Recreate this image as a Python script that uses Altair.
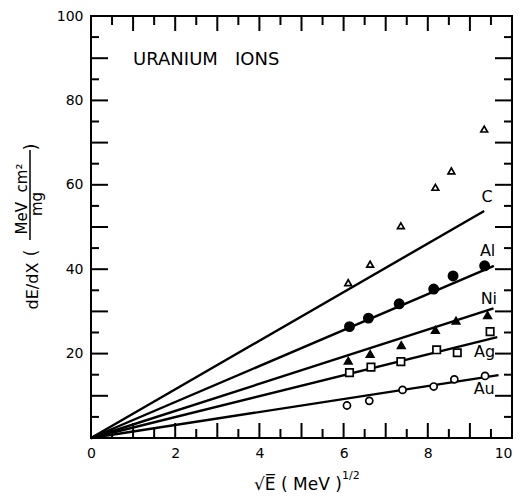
import altair as alt
import pandas as pd

# ---- data ----
C_x = [6.11, 6.63, 7.36, 8.18, 8.56, 9.34]
C_y = [36.8, 41.2, 50.3, 59.4, 63.3, 73.2]
Al_x = [6.14, 6.59, 7.32, 8.14, 8.60, 9.35]
Al_y = [26.4, 28.4, 31.8, 35.3, 38.4, 40.8]
Ni_x = [6.11, 6.63, 7.37, 8.18, 8.67, 9.42]
Ni_y = [18.3, 19.9, 22.0, 25.6, 27.8, 29.1]
Ag_x = [6.14, 6.65, 7.36, 8.21, 8.70, 9.48]
Ag_y = [15.5, 16.8, 18.1, 20.9, 20.2, 25.2]
Au_x = [6.08, 6.61, 7.40, 8.14, 8.63, 9.36]
Au_y = [7.7, 8.8, 11.4, 12.2, 13.9, 14.7]

series = ["C", "Al", "Ni", "Ag", "Au"]
line_end_x = [9.34, 9.57, 9.56, 9.65, 9.68]
line_end_y = [53.8, 40.8, 30.7, 23.9, 14.9]
label_x = [9.41, 9.42, 9.45, 9.35, 9.34]
label_y = [57.1, 44.3, 32.9, 20.4, 11.6]

x_labels = [0, 2, 4, 6, 8, 10]
y_labels = [20, 40, 60, 80, 100]
x_major = [1, 2, 3, 4, 5, 6, 7, 8, 9]
x_minor = [0.5, 1.5, 2.5, 3.5, 4.5, 5.5, 6.5, 7.5, 8.5, 9.5]
y_major = [10, 20, 30, 40, 50, 60, 70, 80, 90]
y_minor = [5, 15, 25, 35, 45, 55, 65, 75, 85, 95]

FONT = "DejaVu Sans"
W = 421
H = 422

xs = alt.Scale(domain=[0, 10], nice=False, zero=False)
ys = alt.Scale(domain=[0, 100], nice=False, zero=False)
xaxis = alt.Axis(values=x_labels, ticks=False, tickSize=0, domain=False, grid=False,
                 labelPadding=8, labelFontSize=14, labelFont=FONT, labelColor="black",
                 labelAlign=alt.condition("datum.value == 10", alt.value("right"), alt.value("center")),
                 title="", labelFlush=False)
yaxis = alt.Axis(values=y_labels, ticks=False, tickSize=0, domain=False, grid=False,
                 labelPadding=8, labelFontSize=14, labelFont=FONT, labelColor="black",
                 title="", labelFlush=False)


def X(f="x"):
    return alt.X(f"{f}:Q", scale=xs, axis=xaxis)


def Y(f="y"):
    return alt.Y(f"{f}:Q", scale=ys, axis=yaxis)


layers = []

# fitted lines from the origin
line_rows = []
for s, ex, ey in zip(series, line_end_x, line_end_y):
    line_rows.append({"s": s, "x": 0, "y": 0})
    line_rows.append({"s": s, "x": ex, "y": ey})
layers.append(alt.Chart(pd.DataFrame(line_rows)).mark_line(color="black", strokeWidth=2.4)
              .encode(x=X(), y=Y(), detail="s:N"))


def pts(xv, yv, shape, filled, size):
    df = pd.DataFrame({"x": xv, "y": yv})
    kw = dict(shape=shape, size=size, opacity=1, strokeWidth=1.7)
    if filled:
        kw.update(filled=True, fill="black", stroke="black")
    else:
        kw.update(filled=False, fill="white", fillOpacity=1, stroke="black")
    return alt.Chart(df).mark_point(**kw).encode(x=X(), y=Y())


layers.append(pts(C_x, C_y, "triangle-up", False, 45))
layers.append(pts(Al_x, Al_y, "circle", True, 85))
layers.append(pts(Ni_x, Ni_y, "triangle-up", True, 55))
layers.append(pts(Ag_x, Ag_y, "square", False, 55))
layers.append(pts(Au_x, Au_y, "circle", False, 50))

# series labels
lab = pd.DataFrame({"t": series, "x": label_x, "y": label_y})
layers.append(alt.Chart(lab).mark_text(font=FONT, fontSize=16, color="black",
                                       align="center", baseline="middle")
              .encode(x=X(), y=Y(), text="t:N"))

# inner title
ttl = pd.DataFrame({"t": ["URANIUM \u00a0\u00a0IONS"], "x": [1.0], "y": [89.6]})
layers.append(alt.Chart(ttl).mark_text(font=FONT, fontSize=18, color="black",
                                       align="left", baseline="middle")
              .encode(x=X(), y=Y(), text="t:N"))

# inward ticks
def xticks(vals, length, top):
    df = pd.DataFrame({"x": vals})
    if top:
        yy, yy2 = alt.value(0), alt.value(length)
    else:
        yy, yy2 = alt.value(H), alt.value(H - length)
    return alt.Chart(df).mark_rule(color="black", strokeWidth=2).encode(x=X(), y=yy, y2=yy2)


def yticks(vals, length, right):
    df = pd.DataFrame({"y": vals})
    if right:
        xx, xx2 = alt.value(W), alt.value(W - length)
    else:
        xx, xx2 = alt.value(0), alt.value(length)
    return alt.Chart(df).mark_rule(color="black", strokeWidth=2).encode(y=Y(), x=xx, x2=xx2)


for top in (False, True):
    layers.append(xticks(x_major, 15, top))
    layers.append(xticks(x_minor, 9, top))
for right in (False, True):
    layers.append(yticks(y_major, 17, right))
    layers.append(yticks(y_minor, 8, right))

# axis titles drawn as text
def txt(t, x, y, size, angle=0, align="center", baseline="alphabetic"):
    kw = dict(text=t, font=FONT, fontSize=size, color="black", align=align, baseline=baseline)
    if angle:
        kw["angle"] = angle
    return alt.Chart(pd.DataFrame({"a": [0]})).mark_text(**kw).encode(x=alt.value(x), y=alt.value(y))


layers.append(txt("dE/dX", -53, 270, 16, angle=270))
layers.append(txt("(", -54, 237, 17, angle=270))
layers.append(txt(")", -54, 131, 17, angle=270))
layers.append(txt("MeV\u00a0 cm²", -64, 183, 15, angle=270))
layers.append(txt("mg", -49, 188, 15, angle=270))
layers.append(alt.Chart(pd.DataFrame({"a": [0]})).mark_rule(color="black", strokeWidth=1.5)
              .encode(x=alt.value(-61), y=alt.value(134), y2=alt.value(224)))

layers.append(txt("√E\u0305 ( MeV )", 163, 474, 17, align="left"))
layers.append(txt("1/2", 251, 463, 11, align="left"))

chart = (alt.layer(*layers)
         .properties(width=W, height=H,
                     autosize=alt.AutoSizeParams(type="none"),
                     padding={"left": 83, "top": 8, "right": 1, "bottom": 56})
         .configure_view(stroke="black", strokeWidth=2))

chart.save("out.html", embed_options={"renderer": "svg", "actions": False})
